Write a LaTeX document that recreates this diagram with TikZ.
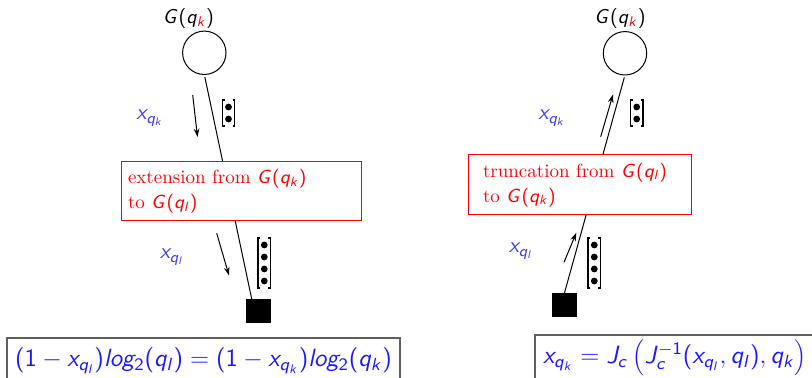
\RequirePackage{fix-cm}
\documentclass[tikz,border=0pt]{standalone}
\usetikzlibrary{arrows.meta}
\DeclareSymbolFont{sfletters}{OT1}{cmss}{m}{sl}
\SetSymbolFont{operators}{normal}{OT1}{cmss}{m}{n}
\DeclareMathSymbol{x}{\mathalpha}{sfletters}{`x}
\DeclareMathSymbol{q}{\mathalpha}{sfletters}{`q}
\DeclareMathSymbol{k}{\mathalpha}{sfletters}{`k}
\DeclareMathSymbol{l}{\mathalpha}{sfletters}{`l}
\DeclareMathSymbol{o}{\mathalpha}{sfletters}{`o}
\DeclareMathSymbol{g}{\mathalpha}{sfletters}{`g}
\DeclareMathSymbol{c}{\mathalpha}{sfletters}{`c}
\DeclareMathSymbol{G}{\mathalpha}{sfletters}{`G}
\DeclareMathSymbol{J}{\mathalpha}{sfletters}{`J}
\definecolor{lblblue}{RGB}{60,60,255}
\definecolor{eqblue}{RGB}{25,25,255}
\definecolor{boxgray}{RGB}{95,95,95}
\newcommand{\dotvec}[3]{%
  \pgfmathsetmacro{\dvh}{12*#3+2}
  \draw[line width=0.6pt] ({#1-4},{#2-\dvh/2}) -- ({#1-6.3},{#2-\dvh/2}) -- ({#1-6.3},{#2+\dvh/2}) -- ({#1-4},{#2+\dvh/2});
  \draw[line width=0.6pt] ({#1+4},{#2-\dvh/2}) -- ({#1+6.3},{#2-\dvh/2}) -- ({#1+6.3},{#2+\dvh/2}) -- ({#1+4},{#2+\dvh/2});
  \foreach \dvi in {1,...,#3}{\fill ({#1},{#2-\dvh/2+1+12*\dvi-6}) circle[radius=1.7pt];}
}
\begin{document}
\begin{tikzpicture}[x=0.5pt,y=-0.5pt,
  every node/.style={inner sep=0pt,outer sep=0pt},
  gnode/.style={circle,draw,line width=0.5pt,minimum size=21.7pt},
  sqnode/.style={fill=black,minimum width=12.3pt,minimum height=12.2pt},
  glabel/.style={anchor=base,font=\fontsize{10}{12}\selectfont},
  redbox/.style={draw=red,fill=white,line width=0.5pt,text=red,align=left,anchor=north west,
    font=\fontsize{9.5}{12.5}\selectfont},
  flow/.style={line width=0.5pt,-{Stealth[length=4.2pt,width=2.8pt]}},
  conn/.style={line width=0.5pt},
  xlabel/.style={text=lblblue,font=\fontsize{11}{13}\selectfont},
  eqbox/.style={draw=boxgray,line width=0.6pt,text=eqblue,font=\fontsize{12.5}{15}\selectfont,
    text height=9.4pt,text depth=12pt,inner ysep=4.9pt,anchor=north west}
]
\useasboundingbox (0,0) rectangle (812,378);
% left
\node[glabel] (gl1) at (188.5,23.5) {$G(q_{\color{red}k})$};
\node[gnode] (c1) at (204.3,52.8) {};
\node[sqnode] (s1) at (258.3,311.2) {};
\draw[conn,shorten <=1.3pt] (c1.south) -- ([xshift=-3.3pt]s1.north);
\node[redbox,minimum width=120pt,minimum height=29.5pt,text width=113pt,inner xsep=3.5pt] (b1) at (121,162)
  {extension from $G(q_k)$\\ to $G(q_l)$};
\coordinate (a1s) at (192.7,95);
\coordinate (a1e) at (197.5,137);
\draw[flow] (a1s) -- (a1e);
\coordinate (a2s) at (216.7,233.3);
\coordinate (a2e) at (229,275.5);
\draw[flow] (a2s) -- (a2e);
\node[xlabel] (l1) at (150,118) {$x_{q_k}$};
\node[xlabel] (l2) at (172,257) {$x_{q_l}$};
\dotvec{228.5}{113}{2}
\dotvec{264.3}{263}{4}
\node[eqbox,minimum width=196.5pt,inner xsep=4pt] (e1) at (7,338)
  {$(1-x_{q_l}) log_2(q_l) = (1-x_{q_k}) log_2(q_k)$};
% right
\node[glabel] (gl2) at (620,23.5) {$G(q_{\color{red}k})$};
\node[gnode] (c2) at (625,53.3) {};
\node[sqnode] (s2) at (564.5,305) {};
\draw[conn,shorten <=1.3pt] (c2.south) -- (s2.north);
\node[redbox,minimum width=111.5pt,minimum height=30pt,text width=96.5pt,inner xsep=7.5pt] (b2) at (468,155)
  {truncation from $G(q_l)$\\ to $G(q_k)$};
\coordinate (a3s) at (600.7,136.7);
\coordinate (a3e) at (613,94.5);
\draw[flow] (a3s) -- (a3e);
\coordinate (a4s) at (564,262.3);
\coordinate (a4e) at (576.3,232.8);
\draw[flow] (a4s) -- (a4e);
\node[xlabel] (l3) at (552,118) {$x_{q_k}$};
\node[xlabel] (l4) at (521,251) {$x_{q_l}$};
\dotvec{636.7}{113}{2}
\dotvec{594.3}{263}{4}
\node[eqbox,minimum width=150pt,text width=142pt,align=left,inner xsep=4pt] (e2) at (535,335)
  {$x_{q_k} = J_c\left(J_c^{-1}(x_{q_l}, q_l), q_k\right)$};
\end{tikzpicture}
\end{document}
